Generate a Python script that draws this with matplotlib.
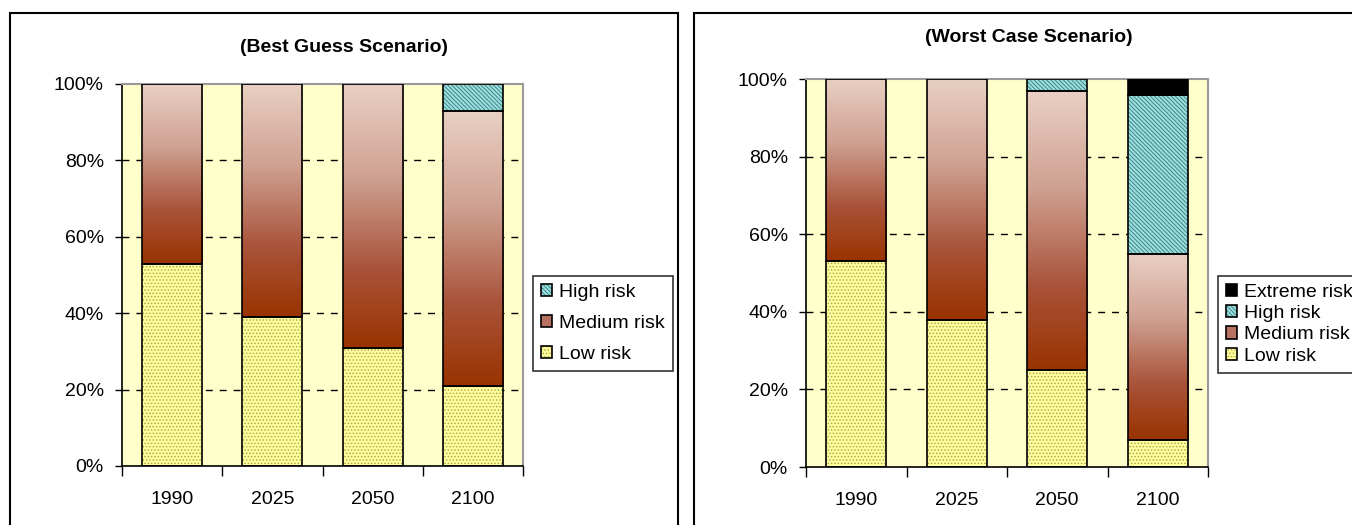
import numpy as np
import matplotlib
matplotlib.use('Agg')
import matplotlib.pyplot as plt
from matplotlib.colors import LinearSegmentedColormap
from matplotlib.patches import Rectangle, Patch
from matplotlib.legend_handler import HandlerTuple

plt.rcParams['font.family'] = ['Liberation Sans', 'DejaVu Sans']
plt.rcParams['hatch.linewidth'] = 0.7

years = ['1990', '2025', '2050', '2100']

# best guess scenario (%)
best_low = [53, 39, 31, 21]
best_medium = [47, 61, 69, 72]
best_high = [0, 0, 0, 7]

# worst case scenario (%)
worst_low = [53, 38, 25, 7]
worst_medium = [47, 62, 72, 48]
worst_high = [0, 0, 3, 41]
worst_extreme = [0, 0, 0, 4]

yticks = [0, 20, 40, 60, 80, 100]
grid_levels = [20, 40, 60, 80]

med_cmap = LinearSegmentedColormap.from_list(
    'med', [(0, '#993300'), (0.3, '#A9533A'), (0.65, '#CFA192'), (1, '#E9D0C4')])
grad = np.linspace(0, 1, 256).reshape(-1, 1)

LOW_FACE, LOW_DOT = '#FFFF9E', '#B0A850'
HIGH_FACE, HIGH_LINE = '#A8DCDC', '#2A8E8E'
HIGH_HATCH = '\\\\\\\\\\\\\\\\'


def hatched_bar(ax, x, h, bottom, face, hatch, hcolor):
    ax.bar(x, h, 0.6, bottom=bottom, color=face, edgecolor=hcolor, hatch=hatch,
           linewidth=0, zorder=2)
    ax.bar(x, h, 0.6, bottom=bottom, fill=False, edgecolor='black', linewidth=1.2, zorder=4)


def draw_panel(ax, low, medium, high, extreme=None):
    x = np.arange(len(years))
    ax.set_facecolor('#FFFFCC')
    ax.hlines(grid_levels, -0.5, len(years) - 0.5, colors='black', linewidth=1,
              linestyles=(0, (5, 5)), zorder=1)

    hatched_bar(ax, x, low, 0, LOW_FACE, '.....', LOW_DOT)

    bottom = np.array(low, dtype=float)
    bars = ax.bar(x, medium, 0.6, bottom=bottom, fill=False, edgecolor='black',
                  linewidth=1.2, zorder=4)
    for b in bars:
        bx, by, bw, bh = b.get_x(), b.get_y(), b.get_width(), b.get_height()
        ax.imshow(grad, extent=[bx, bx + bw, by, by + bh], origin='lower',
                  aspect='auto', cmap=med_cmap, zorder=2)
    bottom = bottom + np.array(medium)

    hx = [i for i in x if high[i] > 0]
    hatched_bar(ax, hx, [high[i] for i in hx], [bottom[i] for i in hx],
                HIGH_FACE, HIGH_HATCH, HIGH_LINE)
    bottom = bottom + np.array(high)

    if extreme is not None:
        ex = [i for i in x if extreme[i] > 0]
        ax.bar(ex, [extreme[i] for i in ex], 0.6, bottom=[bottom[i] for i in ex],
               color='black', edgecolor='black', linewidth=1.2, zorder=4)

    ax.set_xlim(-0.5, len(years) - 0.5)
    ax.set_ylim(0, 100)
    ax.set_yticks(yticks)
    ax.set_yticklabels([f'{v}%' for v in yticks], fontsize=14)
    ax.set_xticks(x)
    ax.set_xticklabels(years, fontsize=14)
    ax.set_xticks(np.arange(-0.5, len(years), 1), minor=True)
    ax.tick_params(axis='x', which='major', length=0, pad=18)
    ax.tick_params(axis='x', which='minor', length=7, width=1, direction='out')
    ax.tick_params(axis='y', length=5, width=1, direction='out', pad=8)
    for s in ['left', 'bottom']:
        ax.spines[s].set_color('black')
        ax.spines[s].set_linewidth(1.2)
    for s in ['top', 'right']:
        ax.spines[s].set_color('#999999')
        ax.spines[s].set_linewidth(1.5)


fig = plt.figure(figsize=(13.52, 5.25), dpi=100)
W, H = 1352, 525

# panel frames
fig.patches.append(Rectangle((10 / W, -0.1), 668 / W, 1.1 - 13 / H, transform=fig.transFigure,
                             fill=False, edgecolor='black', linewidth=1.5))
fig.patches.append(Rectangle((694 / W, -0.1), 700 / W, 1.1 - 13 / H, transform=fig.transFigure,
                             fill=False, edgecolor='black', linewidth=1.5))

ax1 = fig.add_axes([122 / W, 1 - 466 / H, 401 / W, 382 / H])
ax2 = fig.add_axes([806 / W, 1 - 467 / H, 402 / W, 388 / H])

draw_panel(ax1, best_low, best_medium, best_high)
draw_panel(ax2, worst_low, worst_medium, worst_high, worst_extreme)

fig.text(344 / W, 1 - 48 / H, '(Best Guess Scenario)', ha='center', va='center',
         fontsize=14, fontweight='bold')
fig.text(1029 / W, 1 - 38 / H, '(Worst Case Scenario)', ha='center', va='center',
         fontsize=14, fontweight='bold')


def outlined(face, hcolor=None, hatch=None):
    if hatch is None:
        return Patch(facecolor=face, edgecolor='black', linewidth=1.2)
    return (Patch(facecolor=face, edgecolor=hcolor, hatch=hatch, linewidth=0),
            Patch(fill=False, edgecolor='black', linewidth=1.2))


h_low = outlined(LOW_FACE, LOW_DOT, '.....')
h_med = outlined('#B87060')
h_high = outlined(HIGH_FACE, HIGH_LINE, HIGH_HATCH)
h_ext = outlined('black')

leg_kw = dict(loc='upper left', fontsize=14, frameon=True, fancybox=False,
              edgecolor='black', handlelength=0.6, handleheight=0.6,
              handletextpad=0.35, borderaxespad=0, borderpad=0.4,
              handler_map={tuple: HandlerTuple(ndivide=1, pad=0)})

leg1 = fig.legend([h_high, h_med, h_low], ['High risk', 'Medium risk', 'Low risk'],
                  bbox_to_anchor=(533 / W, 1 - 276 / H), labelspacing=0.72, **leg_kw)
leg1.get_frame().set_linewidth(1.2)
leg2 = fig.legend([h_ext, h_high, h_med, h_low],
                  ['Extreme risk', 'High risk', 'Medium risk', 'Low risk'],
                  bbox_to_anchor=(1218 / W, 1 - 276 / H), labelspacing=0.22, **leg_kw)
leg2.get_frame().set_linewidth(1.2)

fig.savefig('out.png', dpi=100)
